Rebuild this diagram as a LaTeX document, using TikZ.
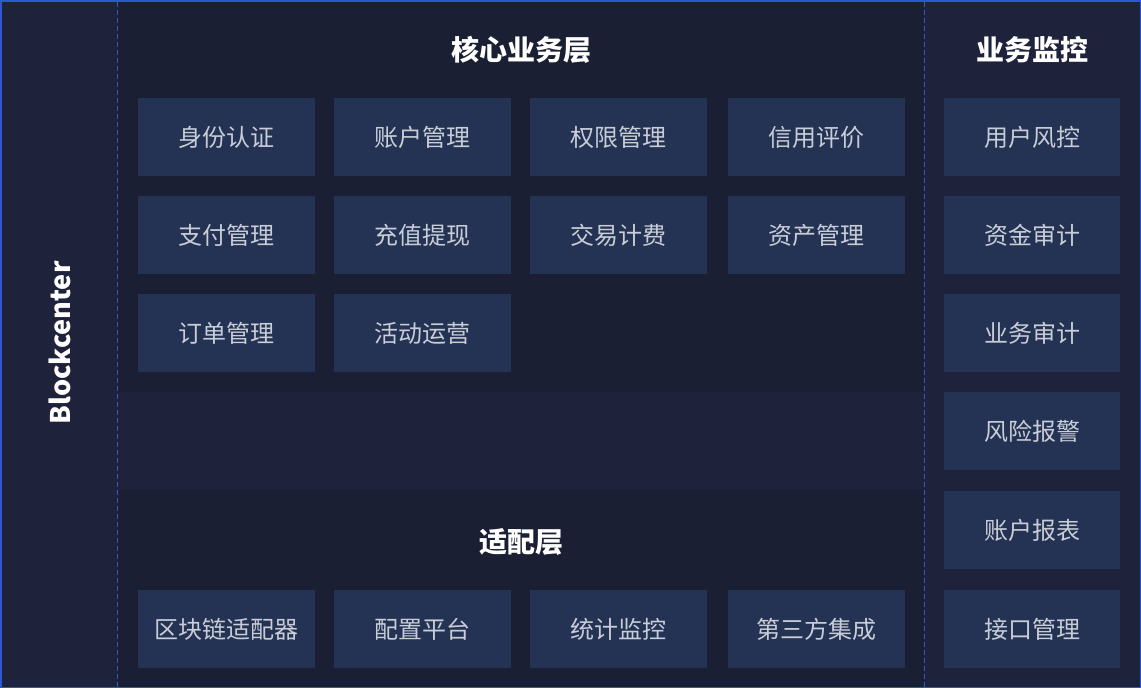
\documentclass[tikz,border=0pt]{standalone}
\usepackage{fontspec}
\setmainfont{Noto Sans CJK SC}
\newfontfamily\cjk{Noto Sans CJK SC}
\definecolor{bgdark}{HTML}{1A1F33}
\definecolor{bglight}{HTML}{1E223B}
\definecolor{boxfill}{HTML}{243353}
\definecolor{frameblue}{HTML}{2A58D6}
\definecolor{dashblue}{HTML}{2E5CCB}
\definecolor{boxtext}{HTML}{C8CDD8}
\begin{document}
\begin{tikzpicture}[x=1pt,y=-1pt,
  cell/.style={fill=boxfill,draw=none,minimum width=177pt,minimum height=78pt,anchor=north west,inner sep=0pt,text=boxtext,font=\cjk\fontsize{24}{28}\selectfont},
  rcell/.style={cell,minimum width=176pt},
  title/.style={text=white,font=\cjk\bfseries\fontsize{28}{32}\selectfont,inner sep=0pt},
  divider/.style={draw=dashblue,line width=1pt,dash pattern=on 4.5pt off 3.5pt}]
\useasboundingbox (0,0) rectangle (1141,688);
% backgrounds
\fill[bglight] (0,0) rectangle (1141,688);
\fill[bgdark] (118,0) rectangle (924,392);
\fill[bglight] (118,392) rectangle (924,490);
\fill[bgdark] (118,490) rectangle (924,688);
% dividers
\coordinate (d1t) at (117.5,2); \coordinate (d1b) at (117.5,688);
\coordinate (d2t) at (924.5,2); \coordinate (d2b) at (924.5,688);
\draw[divider] (d1t) -- (d1b);
\draw[divider] (d2t) -- (d2b);
% frame
\draw[frameblue,line width=1.5pt] (0.75,0.75) rectangle (1140.25,687.25);
% titles
\node[title] (tcore) at (521,50) {核心业务层};
\node[title] (tmon) at (1032,50) {业务监控};
\node[title] (tadp) at (521,542) {适配层};
\node[title,rotate=90,font=\cjk\bfseries\fontsize{27}{31}\selectfont] (tbc) at (60,343) {Blockcenter};
% core cells
\node[cell] (c11) at (138,98) {身份认证};
\node[cell] (c12) at (334,98) {账户管理};
\node[cell] (c13) at (530,98) {权限管理};
\node[cell] (c14) at (728,98) {信用评价};
\node[cell] (c21) at (138,196) {支付管理};
\node[cell] (c22) at (334,196) {充值提现};
\node[cell] (c23) at (530,196) {交易计费};
\node[cell] (c24) at (728,196) {资产管理};
\node[cell] (c31) at (138,294) {订单管理};
\node[cell] (c32) at (334,294) {活动运营};
% adapter cells
\node[cell] (a1) at (138,590) {区块链适配器};
\node[cell] (a2) at (334,590) {配置平台};
\node[cell] (a3) at (530,590) {统计监控};
\node[cell] (a4) at (728,590) {第三方集成};
% monitor cells
\node[rcell] (m1) at (944,98) {用户风控};
\node[rcell] (m2) at (944,196) {资金审计};
\node[rcell] (m3) at (944,294) {业务审计};
\node[rcell] (m4) at (944,392) {风险报警};
\node[rcell] (m5) at (944,491) {账户报表};
\node[rcell] (m6) at (944,590) {接口管理};
\end{tikzpicture}
\end{document}
